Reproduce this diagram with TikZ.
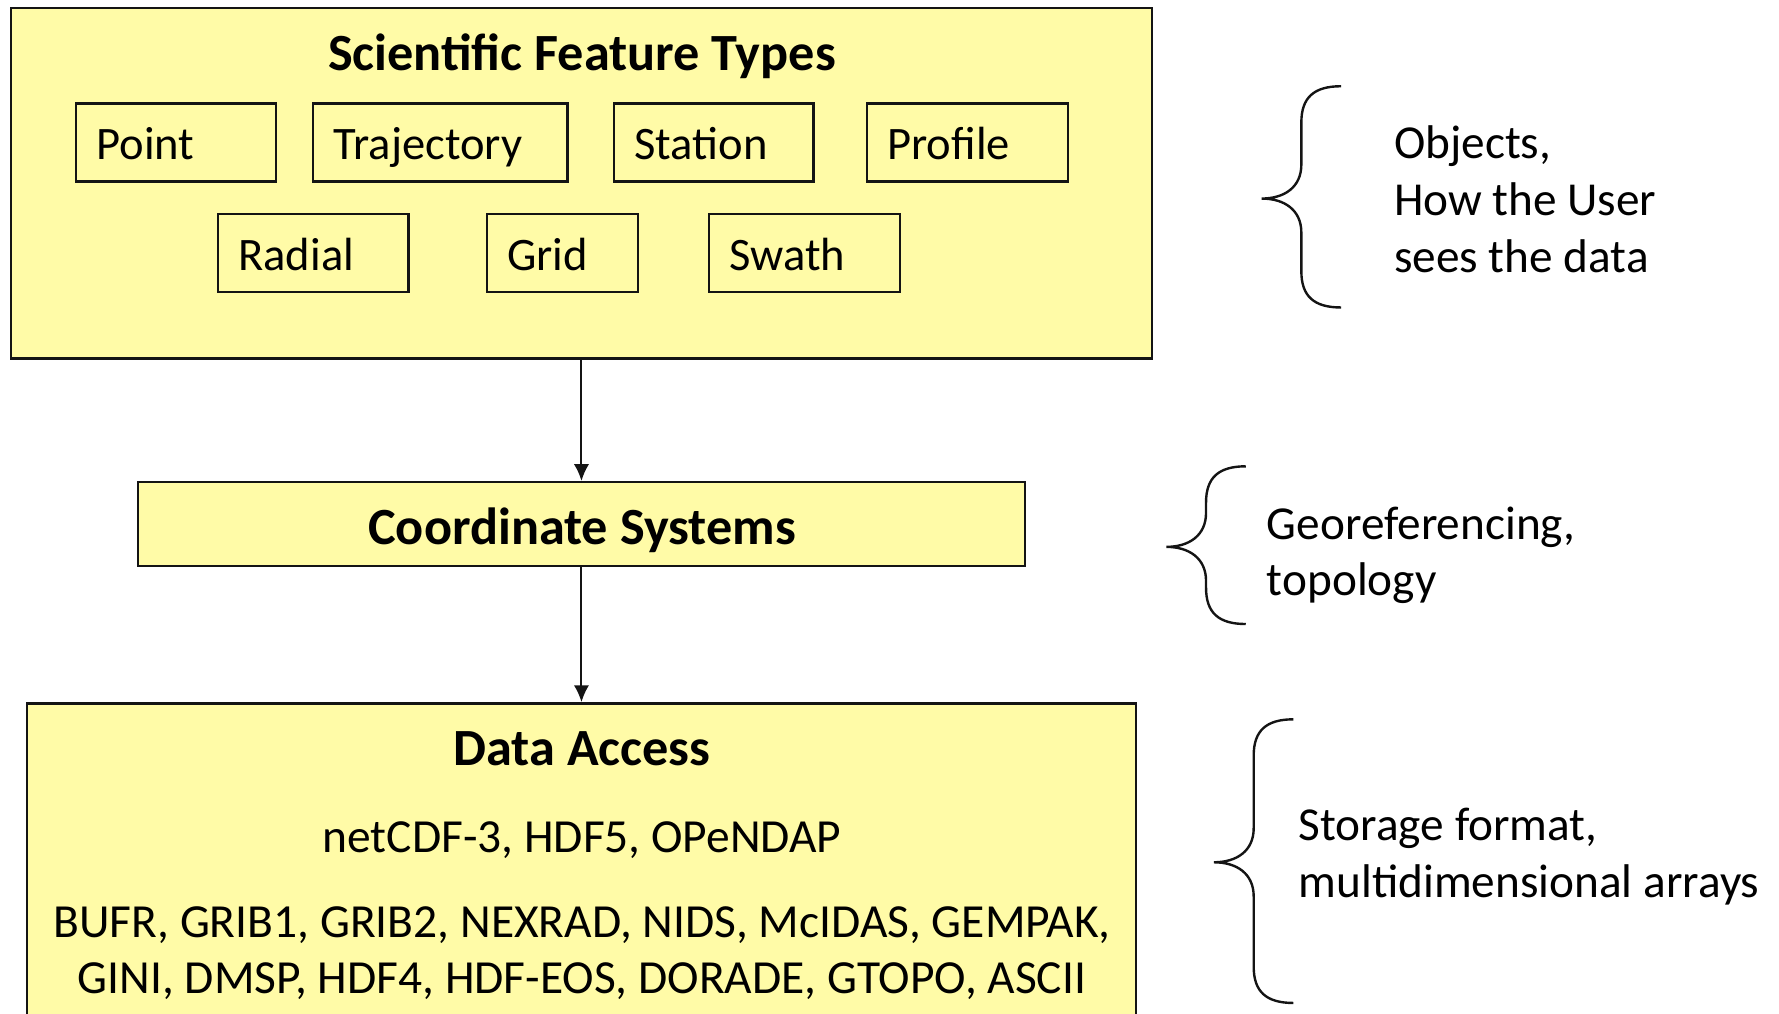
\documentclass[tikz,border=0pt]{standalone}
\usepackage{fontspec}
\setmainfont{Carlito}
\usetikzlibrary{arrows.meta}

\definecolor{paleyellow}{RGB}{255,251,167}
\definecolor{edge}{RGB}{20,20,20}

% curly brace opening to the right: ends at x=#1, top y=#2, tip y=#3, bottom y=#4
\newcommand\curlybrace[4]{%
  \draw[bracestyle] (#1,#2) .. controls ({#1-24},#2) and ({#1-35},{#2+10}) .. ({#1-35},{#2+32})
    -- ({#1-35},{#3-30}) .. controls ({#1-35},{#3-10}) and ({#1-50},#3) .. ({#1-70},#3)
    .. controls ({#1-50},#3) and ({#1-35},{#3+10}) .. ({#1-35},{#3+30})
    -- ({#1-35},{#4-32}) .. controls ({#1-35},{#4-10}) and ({#1-24},#4) .. (#1,#4);}

\tikzset{
  bigbox/.style={draw=edge, line width=0.6pt, fill=paleyellow, rectangle, inner sep=0pt},
  ftype/.style={draw=edge, line width=0.6pt, rectangle, anchor=north west,
    text width=#1, inner xsep=0.18cm, inner ysep=0pt, align=left,
    minimum height=0.69cm, text height=1.05em, text depth=0.2em,
    font=\fontsize{11.67}{14}\selectfont},
  heading/.style={anchor=base, font=\bfseries\fontsize{13.1}{15}\selectfont},
  plain/.style={anchor=base, font=\fontsize{11.9}{14.2}\selectfont},
  note/.style={anchor=base west, align=left, inner sep=0pt,
    font=\fontsize{11.85}{14.2}\selectfont},
  flow/.style={-{Latex[length=4.2pt,width=3.8pt]}, line width=0.5pt, draw=edge},
  bracestyle/.style={line width=0.6pt, draw=edge}
}

\begin{document}
\begin{tikzpicture}[x=0.01cm,y=-0.01cm]
\useasboundingbox (0,0) rectangle (1568,893);

% three layer boxes
\node[bigbox, minimum width=10.05cm, minimum height=3.09cm] (features) at (512.5,161.5) {};
\node[bigbox, minimum width=7.81cm, minimum height=0.74cm] (coords) at (512.5,462) {};
\node[bigbox, minimum width=9.77cm, minimum height=3.00cm] (access) at (512.5,770) {};

% headings
\node[heading] (tFeat) at (513,62) {Scientific Feature Types};
\node[heading] (tCoord) at (513,480) {Coordinate Systems};
\node[heading] (tAccess) at (513,675) {Data Access};

% feature type boxes
\node[ftype=1.40cm] (point) at (66,90) {Point};
\node[ftype=1.88cm] (traj) at (275,90) {Trajectory};
\node[ftype=1.40cm] (station) at (540,90) {Station};
\node[ftype=1.41cm] (profile) at (763,90) {Profile};
\node[ftype=1.32cm] (radial) at (191,187.5) {Radial};
\node[ftype=0.97cm] (grid) at (428,187.5) {Grid};
\node[ftype=1.32cm] (swath) at (624,187.5) {Swath};

% formats
\node[plain] (common) at (513,751) {netCDF-3, HDF5, OPeNDAP};
\node[plain] (others1) at (513,826) {BUFR, GRIB1, GRIB2, NEXRAD, NIDS, McIDAS, GEMPAK,};
\node[plain] (others2) at (513,876) {GINI, DMSP, HDF4, HDF-EOS, DORADE, GTOPO, ASCII};

% connectors
\draw[flow] (features.south) -- (coords.north);
\draw[flow] (coords.south) -- (access.north);

% side notes (base anchor sits on the last line)
\curlybrace{1182}{76}{175}{271}
\node[note] (n1) at (1228,240) {Objects,\\How the User\\sees the data};

\curlybrace{1098}{411}{482}{550}
\node[note] (n2) at (1116,525) {Georeferencing,\\topology};

\curlybrace{1140}{634}{760}{884}
\node[note] (n3) at (1144,791) {Storage format,\\multidimensional arrays};
\end{tikzpicture}
\end{document}
